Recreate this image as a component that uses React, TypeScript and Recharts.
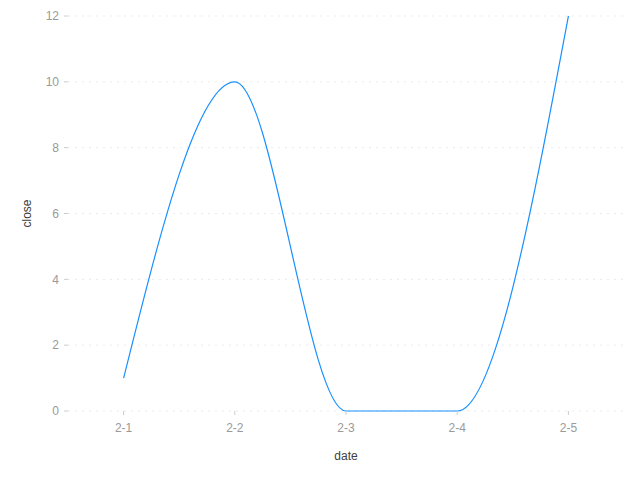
import { CartesianGrid, Line, LineChart, XAxis, YAxis } from 'recharts'

const dates = ['2-1', '2-2', '2-3', '2-4', '2-5']
const closes = [1, 10, 0, 0, 12]
const yTicks = [0, 2, 4, 6, 8, 10, 12]

const data = dates.map((date, i) => ({ date, close: closes[i] }))

const tickStyle = { fill: '#9a9a9a', stroke: 'none', fontSize: 12, fontFamily: 'Liberation Sans, Arial, sans-serif' }

export default function App() {
  return (
    <div style={{ position: 'absolute', left: 0, top: 0, width: 640, height: 480, background: '#fff' }}>
      <LineChart width={640} height={480} data={data} margin={{ top: 16, right: 16, left: 20, bottom: 13 }}>
        <CartesianGrid vertical={false} stroke="#ebebeb" strokeDasharray="2 5" />
        <XAxis
          dataKey="date"
          scale="band"
          height={56}
          axisLine={false}
          tickSize={4}
          tickMargin={8}
          tickLine={{ stroke: '#ccc' }}
          tick={tickStyle}
          label={{
            value: 'date',
            position: 'insideBottom',
            offset: 7,
            fill: '#404040',
            fontSize: 12,
            fontFamily: 'Liberation Sans, Arial, sans-serif',
          }}
        />
        <YAxis
          width={48}
          domain={[0, 12]}
          ticks={yTicks}
          axisLine={false}
          tickSize={4}
          tickMargin={5}
          tickLine={{ stroke: '#ccc' }}
          tick={tickStyle}
          label={({ viewBox }: any) => {
            const x = viewBox.x + 7
            const y = viewBox.y + viewBox.height / 2
            return (
              <text
                x={x}
                y={y}
                transform={`rotate(-90, ${x}, ${y})`}
                textAnchor="middle"
                dominantBaseline="central"
                fill="#404040"
                fontSize={12}
                fontFamily="Liberation Sans, Arial, sans-serif"
              >
                close
              </text>
            )
          }}
        />
        <Line
          type="monotone"
          dataKey="close"
          stroke="#1890ff"
          strokeWidth={1.2}
          dot={false}
          activeDot={false}
          isAnimationActive={false}
        />
      </LineChart>
    </div>
  )
}
